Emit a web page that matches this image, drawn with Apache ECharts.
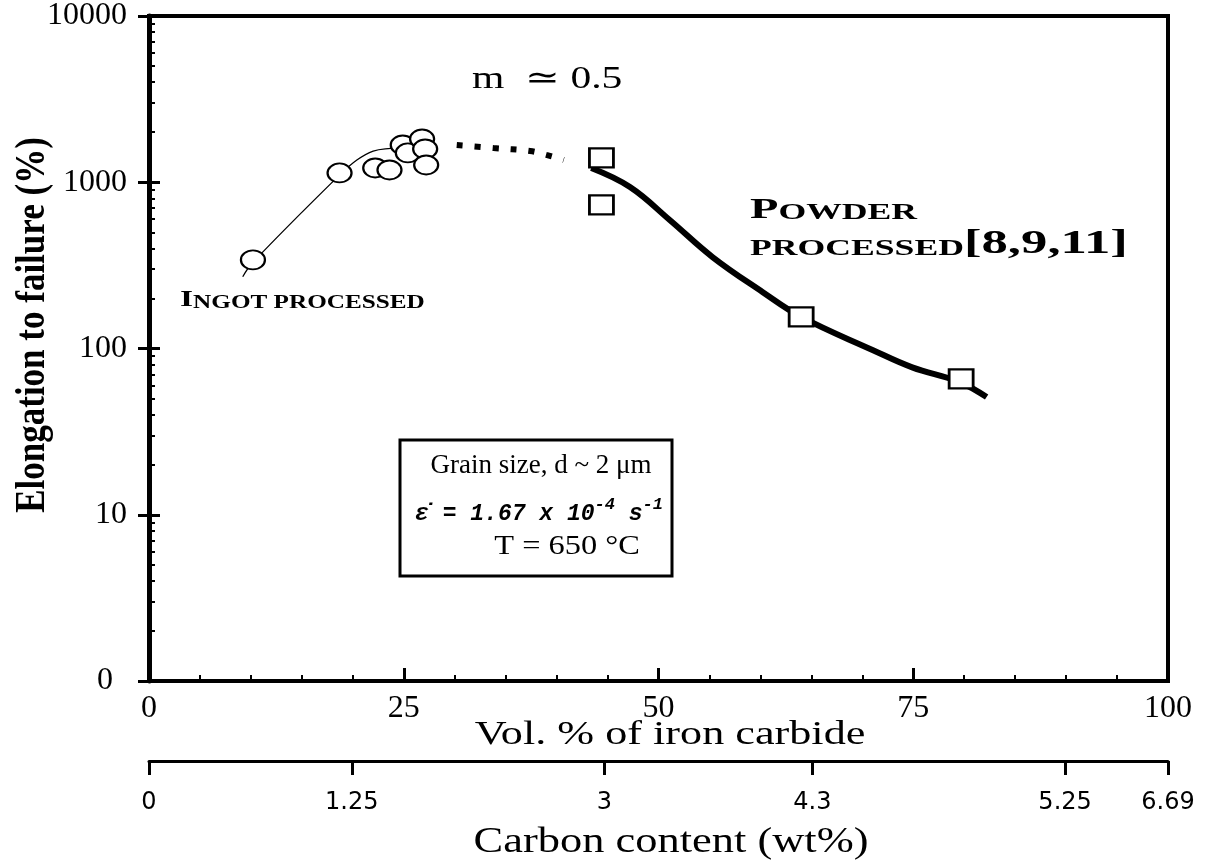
<!DOCTYPE html>
<html>
<head>
<meta charset="utf-8">
<title>Elongation to failure vs vol. % iron carbide</title>
<script src="https://cdn.jsdelivr.net/npm/echarts@6.0.0/dist/echarts.min.js"></script>
<style>
  html, body { margin: 0; padding: 0; background: #fff; }
  #chart { width: 1211px; height: 865px; }
</style>
</head>
<body>
<div id="chart"></div>
<script>
// ingot processed specimens (open circles)
const ingotVol = [10.2, 18.7, 22.2, 23.6, 24.9, 25.4, 26.8, 27.1, 27.2]
const ingotElong = [341, 1137, 1218, 1185, 1675, 1500, 1820, 1585, 1270]
// thin fitted curve through the ingot data
const ingotFitVol = [9.2, 10.2, 18.7, 20.4, 22.0, 23.7, 25.0]
const ingotFitElong = [270, 330, 1105, 1360, 1540, 1600, 1620]
// dotted bridge between the two regimes
const bridgeVol = [30.2, 33.8, 37.4, 39.0, 40.7]
const bridgeElong = [1675, 1607, 1541, 1459, 1361]
// powder processed specimens (open squares)
const powderVol = [44.4, 44.4, 64.0, 79.7]
const powderElong = [1400, 730, 155, 65.6]
// thick fitted curve through the powder data
const powderFitVol = [43.4, 47.2, 51.1, 55.3, 60.2, 64.0, 71.0, 74.9, 79.5, 82.2]
const powderFitElong = [1218, 936, 593, 355, 219, 155, 98, 77, 63, 51]
// second scale: carbon content, placed at the matching vol.% position
const carbonTickPos = [0, 19.9, 44.7, 65.1, 89.9, 100]
const carbonTickLabels = ['0', '1.25', '3', '4.3', '5.25', '6.69']

// log minor ticks 2..9 in every decade
const yMinorTicks = []
for (let d = 1; d < 10000; d *= 10) {
  for (let k = 2; k <= 9; k++) yMinorTicks.push(k * d)
}

const serif = '"Liberation Serif", "DejaVu Serif", serif'
const pairs = (xs, ys) => xs.map((x, i) => [x, ys[i]])
const chart = echarts.init(document.getElementById('chart'))

const yBase = {
  type: 'log',
  logBase: 10,
  min: 1,
  max: 10000,
  position: 'left',
  splitLine: { show: false },
  axisLine: { show: false, onZero: false },
  axisLabel: { show: false },
  axisTick: { show: false }
}

const option = {
  backgroundColor: '#fff',
  animation: false,
  grid: {
    left: 149, right: 43, top: 16, bottom: 184,
    show: true, borderColor: '#000', borderWidth: 4
  },
  xAxis: [
    {
      type: 'value',
      min: 0, max: 100, interval: 25,
      position: 'bottom',
      splitLine: { show: false },
      axisLine: { onZero: false, lineStyle: { color: '#000', width: 4 } },
      axisTick: { inside: true, length: 13, lineStyle: { color: '#000', width: 3 } },
      minorTick: { show: true, splitNumber: 5, length: 6, lineStyle: { color: '#000', width: 2 } },
      axisLabel: { color: '#000', fontFamily: serif, fontSize: 32, margin: 12 }
    },
    {
      type: 'value',
      min: 0, max: 100,
      position: 'bottom',
      offset: 80,
      splitLine: { show: false },
      axisLine: { onZero: false, lineStyle: { color: '#000', width: 3 } },
      axisTick: { customValues: carbonTickPos, length: 14, lineStyle: { color: '#000', width: 3 } },
      axisLabel: {
        customValues: carbonTickPos,
        color: '#000', fontFamily: '"DejaVu Sans", sans-serif', fontSize: 24, margin: 30,
        formatter: v => carbonTickLabels[carbonTickPos.indexOf(v)]
      }
    }
  ],
  yAxis: [
    // labels, axis line, outward major ticks
    Object.assign({}, yBase, {
      axisLine: { show: true, onZero: false, lineStyle: { color: '#000', width: 5 } },
      axisTick: { show: true, length: 11, lineStyle: { color: '#000', width: 3 } },
      axisLabel: {
        show: true, color: '#000', fontFamily: serif, fontSize: 32, margin: 22,
        formatter: v => (v === 1 ? '{z|0}' : String(v)),
        rich: { z: { fontFamily: serif, fontSize: 32, color: '#000', padding: [0, 14, 0, 0] } }
      }
    }),
    // inward major ticks
    Object.assign({}, yBase, {
      axisTick: { show: true, inside: true, length: 11, lineStyle: { color: '#000', width: 3 } }
    }),
    // inward minor ticks
    Object.assign({}, yBase, {
      axisTick: { show: true, inside: true, length: 6, customValues: yMinorTicks, lineStyle: { color: '#000', width: 2 } }
    })
  ],
  series: [
    {
      type: 'line', data: pairs(ingotFitVol, ingotFitElong),
      smooth: 0.4, showSymbol: false, symbol: 'none',
      lineStyle: { color: '#000', width: 1.3 }, z: 2
    },
    {
      type: 'line', data: pairs(bridgeVol, bridgeElong),
      smooth: 0.4, symbol: 'none',
      lineStyle: { color: '#000', width: 6, type: [6, 12], cap: 'butt' }, z: 2
    },
    {
      type: 'line', data: pairs(powderFitVol, powderFitElong),
      smooth: 0.4, symbol: 'none',
      lineStyle: { color: '#000', width: 6 }, z: 2
    },
    {
      type: 'scatter', data: pairs(ingotVol, ingotElong),
      symbol: 'circle', symbolSize: [24, 19],
      itemStyle: { color: '#fff', borderColor: '#000', borderWidth: 2, opacity: 1 }, z: 5
    },
    {
      type: 'scatter', data: pairs(powderVol, powderElong),
      symbol: 'rect', symbolSize: [24, 19],
      itemStyle: { color: '#fff', borderColor: '#000', borderWidth: 2.5, opacity: 1 }, z: 5
    }
  ],
  graphic: [
    {
      type: 'text', x: 33, y: 325, rotation: Math.PI / 2, scaleY: 1.2,
      style: { text: 'Elongation to failure (%)', fontFamily: serif, fontWeight: 'bold', fontSize: 35, fill: '#000', align: 'center', verticalAlign: 'middle' }
    },
    {
      type: 'text', x: 670, y: 735, scaleX: 1.3,
      style: { text: 'Vol. % of iron carbide', fontFamily: serif, fontSize: 34, fill: '#000', align: 'center', verticalAlign: 'middle' }
    },
    {
      type: 'text', x: 671, y: 843, scaleX: 1.27,
      style: { text: 'Carbon content (wt%)', fontFamily: serif, fontSize: 35, fill: '#000', align: 'center', verticalAlign: 'middle' }
    },
    {
      type: 'text', x: 472, y: 80, scaleX: 1.3,
      style: { text: 'm  \u2243 0.5', fontFamily: serif, fontSize: 32, fill: '#000', align: 'left', verticalAlign: 'middle' }
    },
    {
      type: 'text', x: 180, y: 300, scaleX: 1.4,
      style: {
        text: '{a|I}{b|NGOT PROCESSED}', align: 'left', verticalAlign: 'middle',
        rich: {
          a: { fontFamily: serif, fontWeight: 'bold', fontSize: 24, fill: '#000', verticalAlign: 'bottom' },
          b: { fontFamily: serif, fontWeight: 'bold', fontSize: 18, fill: '#000', verticalAlign: 'bottom' }
        }
      }
    },
    {
      type: 'text', x: 750, y: 210, scaleX: 1.55,
      style: {
        text: '{a|P}{b|OWDER}', align: 'left', verticalAlign: 'middle',
        rich: {
          a: { fontFamily: serif, fontWeight: 'bold', fontSize: 30, fill: '#000', verticalAlign: 'bottom' },
          b: { fontFamily: serif, fontWeight: 'bold', fontSize: 23, fill: '#000', verticalAlign: 'bottom' }
        }
      }
    },
    {
      type: 'text', x: 750, y: 244, scaleX: 1.55,
      style: {
        text: '{b|PROCESSED}{c|[8,9,11]}', align: 'left', verticalAlign: 'middle',
        rich: {
          b: { fontFamily: serif, fontWeight: 'bold', fontSize: 23, fill: '#000', verticalAlign: 'bottom' },
          c: { fontFamily: serif, fontWeight: 'bold', fontSize: 34, fill: '#000', verticalAlign: 'bottom' }
        }
      }
    },
    {
      type: 'rect', z: 10,
      shape: { x: 400, y: 440, width: 272, height: 136 },
      style: { fill: '#fff', stroke: '#000', lineWidth: 3 }
    },
    {
      type: 'text', z: 11, x: 541, y: 466,
      style: { text: 'Grain size, d ~ 2 \u03bcm', fontFamily: serif, fontSize: 27, fill: '#000', align: 'center', verticalAlign: 'middle' }
    },
    {
      type: 'text', z: 11, x: 539, y: 511,
      style: {
        text: '{m|\u03b5\u0307 = 1.67 x 10}{s|-4}{m| s}{s|-1}', align: 'center', verticalAlign: 'middle',
        rich: {
          m: { fontFamily: '"Liberation Mono", "DejaVu Sans Mono", monospace', fontWeight: 'bold', fontStyle: 'italic', fontSize: 23, lineHeight: 30, fill: '#000', verticalAlign: 'bottom' },
          s: { fontFamily: '"Liberation Mono", "DejaVu Sans Mono", monospace', fontWeight: 'bold', fontStyle: 'italic', fontSize: 17, lineHeight: 16, fill: '#000', verticalAlign: 'top' }
        }
      }
    },
    {
      type: 'text', z: 11, x: 567, y: 547, scaleX: 1.2,
      style: { text: 'T = 650 \u00b0C', fontFamily: serif, fontSize: 27, fill: '#000', align: 'center', verticalAlign: 'middle' }
    }
  ]
}

chart.setOption(option)
</script>
</body>
</html>
